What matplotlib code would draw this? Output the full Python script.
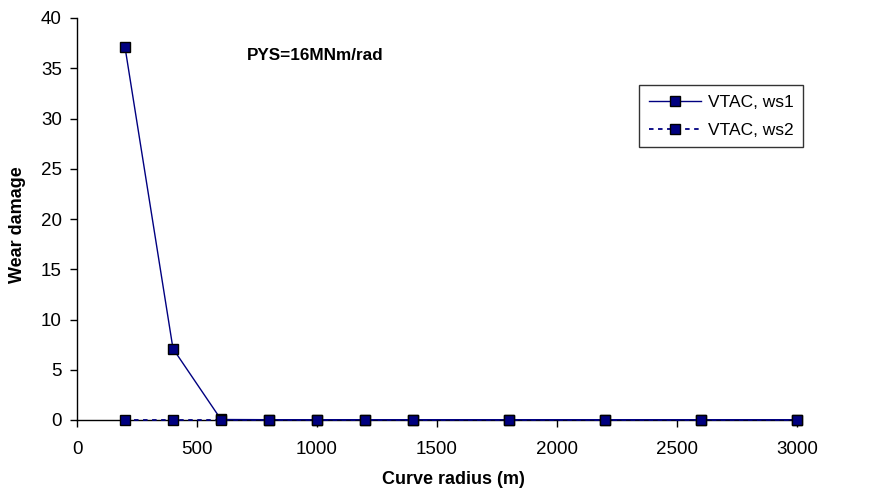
import matplotlib
matplotlib.use("Agg")
import matplotlib.pyplot as plt

radius = [200, 400, 600, 800, 1000, 1200, 1400, 1800, 2200, 2600, 3000]
ws1 = [37.1, 7.1, 0.05, 0.03, 0.03, 0.03, 0.03, 0.03, 0.03, 0.03, 0.03]
ws2 = [0.02, 0.02, 0.02, 0.02, 0.02, 0.02, 0.02, 0.02, 0.02, 0.02, 0.02]
labels = ["VTAC, ws1", "VTAC, ws2"]
title_text = "PYS=16MNm/rad"

plt.rcParams['font.family'] = ['Liberation Sans', 'DejaVu Sans']

W, H = 871, 495
fig = plt.figure(figsize=(W / 100, H / 100), dpi=100)
ax = fig.add_axes([77 / W, 1 - 420 / H, 720 / W, 402 / H])

navy = '#000080'
ax.plot(radius, ws1, color=navy, lw=1.0, ls='-', marker='s', ms=7,
        mfc=navy, mec='black', mew=1, label=labels[0], zorder=3, clip_on=False)
ax.plot(radius, ws2, color=navy, lw=1.3, ls=(0, (2.5, 2.5)), marker='s', ms=7,
        mfc=navy, mec='black', mew=1, label=labels[1], zorder=4, clip_on=False)

ax.set_xlim(0, 3000)
ax.set_ylim(0, 40)
ax.set_xticks(range(0, 3001, 500))
ax.set_yticks(range(0, 41, 5))
ax.tick_params(axis='both', direction='out', length=5, width=1, labelsize=13.5, colors='black')
ax.tick_params(axis='x', pad=10)
ax.tick_params(axis='y', pad=6)
for s in ['top', 'right']:
    ax.spines[s].set_visible(False)
ax.spines['left'].set_linewidth(1)
ax.spines['bottom'].set_linewidth(1)

fig.text(453 / W, 1 - 480 / H, 'Curve radius (m)', fontsize=13, fontweight='bold',
         ha='center', va='center')
fig.text(18 / W, 1 - 225 / H, 'Wear damage', fontsize=13, fontweight='bold',
         ha='center', va='center', rotation=90)
fig.text(315 / W, 1 - 55 / H, title_text, fontsize=12.3, fontweight='bold',
         ha='center', va='center')

leg = ax.legend(loc='upper left',
                bbox_to_anchor=(639 / W, 1 - 85 / H), bbox_transform=fig.transFigure,
                frameon=True, fancybox=False, edgecolor='black', fontsize=12.5,
                handlelength=3.0, borderpad=0.55, labelspacing=0.75, handletextpad=0.4,
                borderaxespad=0)
leg.get_frame().set_linewidth(1)

fig.savefig('out.png', dpi=100)
